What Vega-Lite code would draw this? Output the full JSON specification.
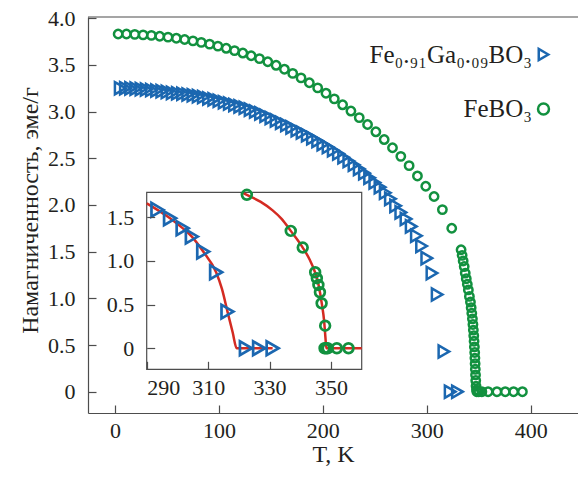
{
  "$schema": "https://vega.github.io/schema/vega-lite/v6.json",
  "width": 490,
  "height": 396,
  "autosize": {"type": "none"},
  "padding": {"left": 88, "top": 17, "right": 0, "bottom": 69},
  "background": "white",
  "config": {
    "font": "Liberation Serif, Times New Roman, serif",
    "view": {"stroke": null},
    "axis": {
      "labelFont": "Liberation Serif, Times New Roman, serif", "labelFontSize": 22, "labelColor": "#231f20",
      "titleFont": "Liberation Serif, Times New Roman, serif", "titleFontSize": 24, "titleFontWeight": "normal", "titleColor": "#231f20",
      "domainColor": "#4d4d4d", "tickColor": "#4d4d4d", "domainWidth": 1.2, "tickWidth": 1.2,
      "grid": false, "tickSize": -8
    }
  },
  "datasets": {
    "blue": [
      {"T":5,"M":3.25},{"T":10,"M":3.25},{"T":15,"M":3.248},{"T":20,"M":3.245},{"T":25,"M":3.24},{"T":30,"M":3.235},{"T":35,"M":3.23},{"T":40,"M":3.225},{"T":45,"M":3.218},{"T":50,"M":3.21},
      {"T":55,"M":3.2},{"T":60,"M":3.195},{"T":65,"M":3.19},{"T":70,"M":3.183},{"T":75,"M":3.175},{"T":80,"M":3.165},{"T":85,"M":3.155},{"T":90,"M":3.14},{"T":95,"M":3.13},{"T":100,"M":3.115},
      {"T":105,"M":3.1},{"T":110,"M":3.085},{"T":115,"M":3.07},{"T":120,"M":3.055},{"T":125,"M":3.04},{"T":130,"M":3.02},{"T":135,"M":3.0},{"T":140,"M":2.98},{"T":145,"M":2.955},{"T":150,"M":2.93},
      {"T":155,"M":2.905},{"T":160,"M":2.88},{"T":165,"M":2.855},{"T":170,"M":2.83},{"T":175,"M":2.8},{"T":180,"M":2.775},{"T":185,"M":2.745},{"T":190,"M":2.715},{"T":195,"M":2.685},{"T":200,"M":2.65},
      {"T":205,"M":2.62},{"T":210,"M":2.585},{"T":215,"M":2.55},{"T":220,"M":2.51},{"T":225,"M":2.47},{"T":230,"M":2.43},{"T":235,"M":2.385},{"T":240,"M":2.34},{"T":245,"M":2.29},{"T":250,"M":2.24},
      {"T":255,"M":2.19},{"T":260,"M":2.13},{"T":265,"M":2.065},{"T":270,"M":1.99},{"T":275,"M":1.92},{"T":280,"M":1.85},{"T":285,"M":1.77},{"T":290,"M":1.67},{"T":295,"M":1.56},{"T":300,"M":1.43},
      {"T":305,"M":1.27},{"T":310,"M":1.04},{"T":316.5,"M":0.43},{"T":322.5,"M":0},{"T":329.5,"M":0}
    ],
    "green": [
      {"T":3,"M":3.83},{"T":11,"M":3.83},{"T":19,"M":3.826},{"T":27,"M":3.821},{"T":35,"M":3.815},{"T":43,"M":3.806},{"T":51,"M":3.796},{"T":59,"M":3.785},{"T":67,"M":3.771},{"T":75,"M":3.756},
      {"T":83,"M":3.74},{"T":91,"M":3.721},{"T":99,"M":3.7},{"T":107,"M":3.677},{"T":115,"M":3.652},{"T":123,"M":3.626},{"T":131,"M":3.597},{"T":139,"M":3.567},{"T":147,"M":3.533},{"T":155,"M":3.495},
      {"T":163,"M":3.453},{"T":171,"M":3.408},{"T":179,"M":3.36},{"T":187,"M":3.308},{"T":195,"M":3.253},{"T":203,"M":3.196},{"T":211,"M":3.136},{"T":219,"M":3.072},{"T":227,"M":3.005},{"T":235,"M":2.935},
      {"T":243,"M":2.861},{"T":251,"M":2.783},{"T":259,"M":2.7},{"T":267,"M":2.612},{"T":275,"M":2.52},{"T":283,"M":2.42},{"T":291,"M":2.31},{"T":299,"M":2.2},{"T":307,"M":2.09},{"T":315,"M":1.95},
      {"T":324,"M":1.75},{"T":333,"M":1.52},{"T":334,"M":1.46},{"T":335,"M":1.4},{"T":336,"M":1.34},{"T":337,"M":1.27},{"T":338,"M":1.21},{"T":339,"M":1.15},{"T":340,"M":1.09},{"T":341,"M":1.02},
      {"T":342,"M":0.96},{"T":342.7,"M":0.9},{"T":343.3,"M":0.84},{"T":343.9,"M":0.78},{"T":344.4,"M":0.72},{"T":344.8,"M":0.66},{"T":345.2,"M":0.6},{"T":345.5,"M":0.54},{"T":345.8,"M":0.48},{"T":346.1,"M":0.42},
      {"T":346.3,"M":0.36},{"T":346.5,"M":0.3},{"T":346.7,"M":0.24},{"T":346.9,"M":0.18},{"T":347.1,"M":0.12},{"T":347.4,"M":0.06},{"T":347.8,"M":0.02},{"T":348.2,"M":0},{"T":350,"M":0},{"T":353,"M":0},
      {"T":359,"M":0},{"T":367.5,"M":0},{"T":375.5,"M":0},{"T":383.5,"M":0},{"T":392,"M":0}
    ],
    "insetBlue": [
      {"T":293.5,"M":1.586},{"T":297.6,"M":1.49},{"T":301.7,"M":1.376},{"T":304.7,"M":1.28},{"T":308.4,"M":1.108},{"T":312.6,"M":0.871},{"T":316.3,"M":0.42},{"T":322.3,"M":0},{"T":326.6,"M":0},{"T":331,"M":0}
    ],
    "insetGreen": [
      {"T":322.6,"M":1.758},{"T":336.9,"M":1.345},{"T":340.8,"M":1.154},{"T":344.85,"M":0.871},{"T":345.4,"M":0.803},{"T":345.9,"M":0.726},{"T":346.4,"M":0.642},{"T":346.95,"M":0.516},{"T":348.1,"M":0.259},
      {"T":347.9,"M":0},{"T":348.4,"M":0},{"T":348.9,"M":0},{"T":351.9,"M":0},{"T":355.7,"M":0}
    ],
    "fit": [
      {"T":290,"M":1.66,"c":"a"},{"T":293.5,"M":1.586,"c":"a"},{"T":297.6,"M":1.49,"c":"a"},{"T":301.7,"M":1.376,"c":"a"},{"T":304.7,"M":1.28,"c":"a"},{"T":308.4,"M":1.108,"c":"a"},{"T":312.6,"M":0.871,"c":"a"},{"T":314.5,"M":0.68,"c":"a"},{"T":316.3,"M":0.42,"c":"a"},{"T":318,"M":0.18,"c":"a"},{"T":319.3,"M":0,"c":"a"},{"T":331,"M":0,"c":"a"},
      {"T":321,"M":1.787,"c":"b"},{"T":322.6,"M":1.758,"c":"b"},{"T":327,"M":1.68,"c":"b"},{"T":331,"M":1.58,"c":"b"},{"T":334,"M":1.48,"c":"b"},{"T":336.9,"M":1.345,"c":"b"},{"T":340.8,"M":1.154,"c":"b"},{"T":343,"M":1.02,"c":"b"},{"T":344.8,"M":0.871,"c":"b"},{"T":346,"M":0.72,"c":"b"},{"T":347,"M":0.515,"c":"b"},{"T":347.8,"M":0.3,"c":"b"},{"T":348.2,"M":0.12,"c":"b"},{"T":348.5,"M":0,"c":"b"},{"T":360,"M":0,"c":"b"}
    ]
  },
  "layer": [
    {
      "layer": [
        {
          "data": {"values": [{}]},
          "mark": {"type": "rule", "color": "#4d4d4d", "strokeWidth": 1.2},
          "encoding": {"y": {"datum": 4.012, "type": "quantitative"}}
        },
        {
          "data": {"name": "blue"},
          "mark": {"type": "point", "filled": false, "size": 150, "strokeWidth": 2.5, "opacity": 1},
          "encoding": {
            "x": {"field": "T", "type": "quantitative"},
            "y": {"field": "M", "type": "quantitative"},
            "color": {"datum": "Fe0.91Ga0.09BO3"},
            "shape": {"datum": "Fe0.91Ga0.09BO3"}
          }
        },
        {
          "data": {"name": "green"},
          "mark": {"type": "point", "filled": false, "size": 70, "strokeWidth": 2.5, "opacity": 1},
          "encoding": {
            "x": {"field": "T", "type": "quantitative"},
            "y": {"field": "M", "type": "quantitative"},
            "color": {"datum": "FeBO3"},
            "shape": {"datum": "FeBO3"}
          }
        }
      ],
      "encoding": {
        "x": {"type": "quantitative",
          "scale": {"domain": [-26, 445.5], "nice": false, "zero": false},
          "axis": {"orient": "bottom", "values": [0, 100, 200, 300, 400], "title": "T, K", "titleY": 48, "titleBaseline": "alphabetic", "labelPadding": 15}},
        "y": {"type": "quantitative",
          "scale": {"domain": [-0.228, 4.012], "nice": false, "zero": false},
          "axis": {"orient": "left", "values": [0, 0.5, 1, 1.5, 2, 2.5, 3, 3.5, 4],
            "labelExpr": "datum.value == 0 ? '0' : format(datum.value, '.1f')",
            "title": "Намагниченность, эме/г", "titleX": -51, "titleY": 193, "titleBaseline": "alphabetic", "labelPadding": 21}},
        "color": {"type": "nominal",
          "scale": {"domain": ["Fe0.91Ga0.09BO3", "FeBO3"], "range": ["#1b67b0", "#12913f"]},
          "legend": {"orient": "none", "legendX": 443, "legendY": 25, "title": null, "labelAlign": "right", "labelOffset": -24,
            "labelFont": "Liberation Serif, Times New Roman, serif", "labelFontSize": 25, "labelColor": "#231f20", "labelLimit": 0,
            "symbolSize": 120, "symbolStrokeWidth": 2.5, "symbolOpacity": 1, "rowPadding": 28.5,
            "labelExpr": "datum.label == 'FeBO3' ? 'FeBO₃' : 'Fe₀.₉₁Ga₀.₀₉BO₃'"}},
        "shape": {"type": "nominal",
          "scale": {"domain": ["Fe0.91Ga0.09BO3", "FeBO3"], "range": ["triangle-right", "circle"]},
          "legend": {"orient": "none", "legendX": 443, "legendY": 25, "title": null, "labelAlign": "right", "labelOffset": -24,
            "labelFont": "Liberation Serif, Times New Roman, serif", "labelFontSize": 25, "labelColor": "#231f20", "labelLimit": 0,
            "symbolSize": 120, "symbolStrokeWidth": 2.5, "symbolOpacity": 1, "rowPadding": 28.5,
            "labelExpr": "datum.label == 'FeBO3' ? 'FeBO₃' : 'Fe₀.₉₁Ga₀.₀₉BO₃'"}}
      }
    },
    {
      "layer": [
        {
          "data": {"values": [{}]},
          "mark": {"type": "rect", "fill": "white", "stroke": "#4d4d4d", "strokeWidth": 1.2},
          "encoding": {
            "x": {"datum": 290, "type": "quantitative"}, "x2": {"datum": 360},
            "y": {"datum": -0.241, "type": "quantitative"}, "y2": {"datum": 1.787}
          }
        },
        {
          "data": {"name": "fit"},
          "mark": {"type": "line", "color": "#d42b22", "strokeWidth": 2.5, "interpolate": "monotone"},
          "encoding": {
            "x": {"field": "T", "type": "quantitative"},
            "y": {"field": "M", "type": "quantitative"},
            "detail": {"field": "c"}
          }
        },
        {
          "data": {"name": "insetBlue"},
          "mark": {"type": "point", "filled": false, "size": 190, "strokeWidth": 2.7, "shape": "triangle-right", "color": "#1b67b0", "opacity": 1},
          "encoding": {
            "x": {"field": "T", "type": "quantitative"},
            "y": {"field": "M", "type": "quantitative"}
          }
        },
        {
          "data": {"name": "insetGreen"},
          "mark": {"type": "point", "filled": false, "size": 95, "strokeWidth": 2.7, "shape": "circle", "color": "#12913f", "opacity": 1},
          "encoding": {
            "x": {"field": "T", "type": "quantitative"},
            "y": {"field": "M", "type": "quantitative"}
          }
        }
      ],
      "encoding": {
        "x": {"type": "quantitative",
          "scale": {"domain": [290, 360], "range": [58.7, 273.7], "nice": false, "zero": false},
          "axis": {"orient": "bottom", "offset": -43.7, "values": [290, 310, 330, 350], "title": null, "domain": false, "zindex": 1, "labelPadding": 16}},
        "y": {"type": "quantitative",
          "scale": {"domain": [-0.241, 1.787], "range": [352.3, 175.3], "nice": false, "zero": false},
          "axis": {"orient": "left", "offset": -58.7, "values": [0, 0.5, 1, 1.5], "title": null, "domain": false, "zindex": 1, "labelPadding": 21,
            "labelExpr": "datum.value == 0 ? '0' : format(datum.value, '.1f')"}}
      }
    }
  ],
  "resolve": {
    "scale": {"x": "independent", "y": "independent"},
    "axis": {"x": "independent", "y": "independent"}
  }
}
